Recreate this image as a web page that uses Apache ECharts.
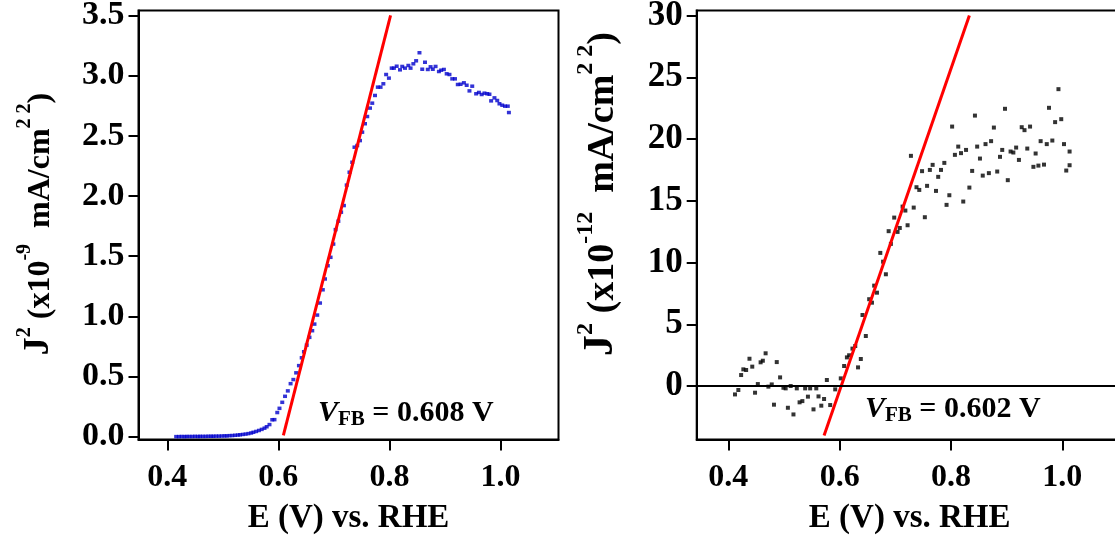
<!DOCTYPE html>
<html><head><meta charset="utf-8">
<script src="https://cdn.jsdelivr.net/npm/echarts@6/dist/echarts.min.js"></script>
<style>html,body{margin:0;padding:0;background:#fff}#c{width:1115px;height:537px}</style>
</head><body><div id="c"></div>
<script>
// ---- data ----
const leftX = [0.416,0.421,0.426,0.431,0.435,0.440,0.445,0.450,0.455,0.459,0.464,0.469,0.474,0.479,0.483,0.488,0.493,0.498,0.503,0.507,0.512,0.517,0.522,0.527,0.531,0.536,0.541,0.546,0.551,0.555,0.560,0.565,0.570,0.575,0.579,0.584,0.589,0.593,0.598,0.602,0.607,0.612,0.617,0.622,0.627,0.632,0.637,0.642,0.646,0.651,0.656,0.661,0.665,0.670,0.675,0.680,0.684,0.689,0.694,0.699,0.703,0.708,0.713,0.718,0.723,0.728,0.733,0.737,0.742,0.747,0.751,0.756,0.760,0.765,0.769,0.774,0.779,0.784,0.789,0.794,0.799,0.804,0.808,0.813,0.819,0.823,0.828,0.834,0.838,0.843,0.848,0.854,0.859,0.864,0.869,0.874,0.878,0.883,0.889,0.893,0.898,0.903,0.908,0.913,0.918,0.923,0.928,0.934,0.939,0.944,0.949,0.956,0.961,0.966,0.971,0.976,0.980,0.983,0.989,0.994,0.998,1.003,1.008,1.013,1.015];
const leftY = [0.000,0.000,0.001,0.000,0.001,0.001,0.001,0.002,0.001,0.002,0.002,0.002,0.003,0.003,0.003,0.004,0.004,0.005,0.006,0.006,0.008,0.009,0.011,0.013,0.015,0.018,0.021,0.025,0.030,0.036,0.043,0.051,0.060,0.070,0.082,0.100,0.140,0.141,0.200,0.235,0.285,0.335,0.380,0.440,0.474,0.530,0.590,0.655,0.705,0.760,0.825,0.880,0.935,1.010,1.110,1.220,1.310,1.420,1.490,1.600,1.720,1.790,1.865,1.920,2.090,2.197,2.280,2.405,2.419,2.460,2.530,2.600,2.660,2.730,2.771,2.835,2.904,2.904,2.932,3.009,2.979,3.062,3.062,3.078,3.048,3.076,3.062,3.084,3.062,3.098,3.123,3.190,3.053,3.111,3.051,3.073,3.053,3.076,3.034,3.045,3.051,3.015,3.009,2.973,2.973,2.926,2.928,2.940,2.920,2.873,2.912,2.849,2.860,2.843,2.854,2.849,2.845,2.790,2.815,2.793,2.766,2.754,2.746,2.746,2.693];

const rightX = [0.412,0.418,0.423,0.427,0.432,0.438,0.443,0.448,0.453,0.458,0.462,0.467,0.472,0.478,0.482,0.487,0.493,0.499,0.503,0.507,0.512,0.517,0.523,0.528,0.533,0.538,0.543,0.547,0.553,0.558,0.562,0.567,0.572,0.577,0.583,0.592,0.602,0.608,0.613,0.617,0.623,0.628,0.633,0.638,0.641,0.647,0.653,0.658,0.662,0.667,0.673,0.678,0.683,0.688,0.692,0.698,0.704,0.708,0.713,0.718,0.722,0.728,0.733,0.738,0.743,0.748,0.753,0.757,0.762,0.767,0.773,0.777,0.782,0.788,0.792,0.797,0.802,0.807,0.813,0.818,0.822,0.827,0.833,0.838,0.843,0.847,0.852,0.857,0.862,0.868,0.872,0.877,0.883,0.888,0.892,0.897,0.902,0.907,0.912,0.917,0.922,0.927,0.932,0.937,0.942,0.948,0.952,0.957,0.961,0.967,0.972,0.976,0.982,0.987,0.993,0.998,1.003,1.007,1.013,1.013];
const rightY = [-0.68,-0.32,0.89,1.35,1.30,2.21,1.57,-0.54,0.16,1.92,2.05,2.65,-0.05,0.13,-1.51,1.94,0.70,-0.14,-0.19,-1.76,0.00,-2.30,-0.19,-1.32,-1.22,-0.19,-0.86,-0.19,-1.89,-0.19,-0.84,-1.59,-1.05,0.49,-1.54,-0.27,0.62,1.62,2.32,2.49,3.03,3.24,1.51,2.19,5.75,4.05,7.03,6.75,8.13,7.56,10.78,10.07,9.05,12.54,11.51,13.64,12.48,12.80,14.53,14.21,13.02,18.64,14.45,16.10,15.88,17.40,13.67,16.21,17.50,17.91,15.80,16.94,17.50,18.07,14.67,15.45,21.01,18.72,19.39,18.86,14.94,19.12,16.07,17.42,21.90,19.39,18.42,17.04,19.59,17.24,19.83,20.93,17.37,18.56,19.12,22.45,16.67,18.99,18.91,19.31,18.31,20.96,20.72,19.23,21.01,17.75,18.83,17.85,19.83,17.93,19.59,22.53,19.88,21.37,24.04,21.61,19.59,17.45,17.88,18.99];

const leftFitX = [0.609, 0.802];
const leftFitY = [0.01, 3.5];
const rightFitX = [0.572, 0.833];
const rightFitY = [-4.0, 30];

const xTicks = [0.4, 0.6, 0.8, 1.0];
const leftYTicks = [0, 0.5, 1.0, 1.5, 2.0, 2.5, 3.0, 3.5];
const rightYTicks = [0, 5, 10, 15, 20, 25, 30];

const leftVfb = '0.608';
const rightVfb = '0.602';
// ---------------------------------------

const FF = "'Liberation Serif','Times New Roman',serif";
const zip = (a, b) => a.map((v, i) => [v, b[i]]);

function xAxisCfg(gi, min, max) {
  return {
    type: 'value', gridIndex: gi, min: min, max: max,
    axisLine: {show: true, onZero: false, lineStyle: {color: '#000', width: 2}},
    axisTick: {show: true, inside: false, length: 11, lineStyle: {color: '#000', width: 2}, customValues: xTicks},
    axisLabel: {customValues: xTicks, formatter: v => v.toFixed(1), margin: 22,
      fontSize: 32, fontFamily: FF, fontWeight: 'bold', color: '#000'},
    splitLine: {show: false},
    name: 'E (V) vs. RHE', nameLocation: 'middle', nameGap: 62,
    nameTextStyle: {fontSize: 33, fontFamily: FF, fontWeight: 'bold', color: '#000'}
  };
}
function yAxisCfg(gi, min, max, ticks, fmt, fs, margin) {
  return {
    type: 'value', gridIndex: gi, min: min, max: max,
    axisLine: {show: true, onZero: false, lineStyle: {color: '#000', width: 2}},
    axisTick: {show: true, inside: false, length: 10, lineStyle: {color: '#000', width: 2}, customValues: ticks},
    axisLabel: {customValues: ticks, formatter: fmt, margin: margin,
      fontSize: fs, fontFamily: FF, fontWeight: 'bold', color: '#000'},
    splitLine: {show: false}
  };
}

function yName(x, y, exp, fs, sfs, sp) {
  return {
    type: 'text', x: x, y: y, rotation: Math.PI / 2, z: 10,
    style: {
      text: '{j|J}{s1|2}{n| (x10}{s2|' + exp + '}{n|' + sp + 'mA/cm}{s3|2 2}{n|)}',
      align: 'center', verticalAlign: 'middle', fill: '#000',
      rich: {
        j: {fontSize: fs + 4, fontFamily: FF, fontWeight: 'bold', lineHeight: fs + 8, verticalAlign: 'bottom'},
        n: {fontSize: fs, fontFamily: FF, fontWeight: 'bold', lineHeight: fs + 2, verticalAlign: 'bottom'},
        s1: {fontSize: sfs, fontFamily: FF, fontWeight: 'bold', lineHeight: fs + 4, verticalAlign: 'top'},
        s2: {fontSize: sfs, fontFamily: FF, fontWeight: 'bold', lineHeight: sfs + 6, verticalAlign: 'top'},
        s3: {fontSize: sfs, fontFamily: FF, fontWeight: 'bold', lineHeight: fs + 10, verticalAlign: 'top'}
      }
    }
  };
}
function vfb(x, y, val) {
  return {
    type: 'text', x: x, y: y, z: 10,
    style: {
      text: '{v|V}{sub|FB}{n| = ' + val + ' V}',
      align: 'left', verticalAlign: 'middle', fill: '#000',
      rich: {
        v: {fontSize: 30, fontFamily: FF, fontWeight: 'bold', fontStyle: 'italic', lineHeight: 34},
        sub: {fontSize: 21, fontFamily: FF, fontWeight: 'bold', lineHeight: 14, verticalAlign: 'bottom'},
        n: {fontSize: 30, fontFamily: FF, fontWeight: 'bold', lineHeight: 34}
      }
    }
  };
}

const chart = echarts.init(document.getElementById('c'), null, {renderer: 'canvas'});
chart.setOption({
  backgroundColor: '#fff',
  animation: false,
  grid: [
    {left: 138.5, top: 10.5, width: 420, height: 429, show: true, borderColor: '#000', borderWidth: 2,
      backgroundColor: 'transparent', containLabel: false, outerBoundsMode: 'none'},
    {left: 696.7, top: 10.5, width: 426, height: 429, show: true, borderColor: '#000', borderWidth: 2,
      backgroundColor: 'transparent', containLabel: false, outerBoundsMode: 'none'}
  ],
  xAxis: [xAxisCfg(0, 0.3482, 1.1043), xAxisCfg(1, 0.3432, 1.1084)],
  yAxis: [
    yAxisCfg(0, -0.024, 3.541, leftYTicks, v => v.toFixed(1), 34, 14),
    yAxisCfg(1, -4.33, 30.41, rightYTicks, v => String(Math.round(v)), 35, 14)
  ],
  graphic: [
    yName(36, 224, '-9', 32, 20, '  '),
    yName(598, 194, '-12', 38, 24, '  '),
    vfb(318, 413, leftVfb),
    vfb(865, 409.5, rightVfb)
  ],
  series: [
    {type: 'scatter', xAxisIndex: 0, yAxisIndex: 0, data: zip(leftX, leftY),
      symbol: 'rect', symbolSize: [4, 3.5], itemStyle: {color: '#0000cc'}, z: 2},
    {type: 'line', xAxisIndex: 0, yAxisIndex: 0, data: zip(leftFitX, leftFitY),
      showSymbol: false, symbol: 'none', lineStyle: {color: '#ff0000', width: 3}, z: 3},
    {type: 'scatter', xAxisIndex: 1, yAxisIndex: 1, data: zip(rightX, rightY),
      symbol: 'rect', symbolSize: 4, itemStyle: {color: '#000'}, z: 2,
      markLine: {silent: true, symbol: 'none', label: {show: false},
        lineStyle: {color: '#000', width: 2, type: 'solid'}, data: [{yAxis: 0}]}},
    {type: 'line', xAxisIndex: 1, yAxisIndex: 1, data: zip(rightFitX, rightFitY),
      showSymbol: false, symbol: 'none', lineStyle: {color: '#ff0000', width: 3}, z: 3}
  ]
});
</script>
</body></html>
